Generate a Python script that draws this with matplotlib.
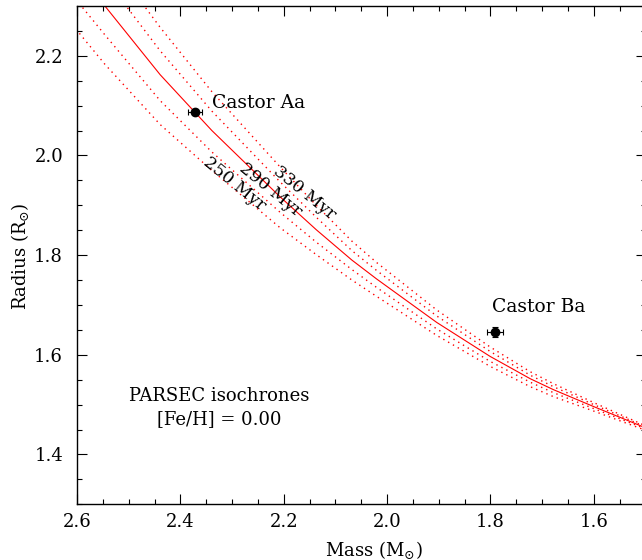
import matplotlib
matplotlib.use("Agg")
import matplotlib.pyplot as plt
from matplotlib.ticker import MultipleLocator, FormatStrFormatter

plt.rcParams['font.family'] = ['DejaVu Serif']
plt.rcParams['mathtext.fontset'] = 'dejavuserif'

# Isochrone data (mass in Msun, radius in Rsun)
mass_grid = [2.650, 2.546, 2.439, 2.339, 2.207, 2.137, 2.068, 2.020, 1.904,
             1.801, 1.723, 1.678, 1.600, 1.501, 1.480]
radius_250 = [2.314, 2.183, 2.062, 1.970, 1.855, 1.801, 1.750, 1.717, 1.639,
              1.577, 1.536, 1.516, 1.487, 1.449, 1.441]
radius_270 = [2.374, 2.242, 2.110, 2.007, 1.886, 1.826, 1.771, 1.735, 1.652,
              1.587, 1.545, 1.524, 1.492, 1.452, 1.443]
radius_290 = [2.434, 2.300, 2.162, 2.050, 1.917, 1.851, 1.790, 1.752, 1.665,
              1.597, 1.552, 1.530, 1.496, 1.454, 1.445]
radius_310 = [2.492, 2.356, 2.210, 2.089, 1.947, 1.876, 1.809, 1.769, 1.678,
              1.607, 1.559, 1.536, 1.500, 1.456, 1.447]
radius_330 = [2.542, 2.406, 2.257, 2.128, 1.977, 1.900, 1.828, 1.785, 1.690,
              1.616, 1.566, 1.542, 1.504, 1.458, 1.448]

# Stars
star_names = ['Castor Aa', 'Castor Ba']
star_mass = [2.372, 1.791]
star_mass_err = [0.013, 0.015]
star_radius = [2.088, 1.646]
star_radius_err = [0.003, 0.010]

age_labels = ['250 Myr', '290 Myr', '330 Myr']

fig = plt.figure(figsize=(6.42, 5.60), dpi=100)
ax = fig.add_axes([77 / 642, 1 - 504.3 / 560, 568.5 / 642, 498.3 / 560])

dot_style = dict(color='#ff0000', lw=1.0, linestyle=(0, (1, 3)))
for r in (radius_250, radius_270, radius_310, radius_330):
    ax.plot(mass_grid, r, **dot_style)
ax.plot(mass_grid, radius_290, color='#ff0000', lw=0.8)

ax.errorbar(star_mass, star_radius, xerr=star_mass_err, yerr=star_radius_err,
            fmt='o', color='black', ms=6, elinewidth=0.8, capsize=2,
            capthick=0.8, zorder=5)

fs = 13
ax.text(2.3387, 2.0956, star_names[0], fontsize=fs + 0.5, ha='left',
        va='baseline')
ax.text(1.7974, 1.6853, star_names[1], fontsize=fs + 0.5, ha='left',
        va='baseline')

label_pos = [(2.2961, 1.943), (2.2265, 1.931), (2.1607, 1.925)]
for lab, (mx, ry) in zip(age_labels, label_pos):
    ax.text(mx, ry, lab, fontsize=fs - 0.5, rotation=-39, ha='center',
            va='center', rotation_mode='anchor')

ax.text(2.325, 1.494, 'PARSEC isochrones\n[Fe/H] = 0.00', fontsize=fs,
        ha='center', va='center', linespacing=1.35)

ax.set_xlim(2.6, 1.5)
ax.set_ylim(1.3, 2.3)
ax.xaxis.set_major_locator(MultipleLocator(0.2))
ax.xaxis.set_minor_locator(MultipleLocator(0.05))
ax.yaxis.set_major_locator(MultipleLocator(0.2))
ax.yaxis.set_minor_locator(MultipleLocator(0.05))
ax.xaxis.set_major_formatter(FormatStrFormatter('%.1f'))
ax.yaxis.set_major_formatter(FormatStrFormatter('%.1f'))

ax.tick_params(which='both', direction='in', top=True, right=True,
               labelsize=fs, width=0.8)
ax.tick_params(which='major', length=7.2)
ax.tick_params(which='minor', length=3.6)
ax.tick_params(axis='x', pad=6.5)
ax.tick_params(axis='y', pad=10)
for s in ax.spines.values():
    s.set_linewidth(1.0)

ax.set_xlabel(r'Mass (M$_{\odot}$)', fontsize=fs)
ax.set_ylabel(r'Radius (R$_{\odot}$)', fontsize=fs)
ax.xaxis.set_label_coords(0.522, -0.092)
ax.yaxis.set_label_coords(-0.100, 0.498)
ax.xaxis.label.set_va('center')
ax.yaxis.label.set_va('center')

fig.savefig('out.png', dpi=100)
